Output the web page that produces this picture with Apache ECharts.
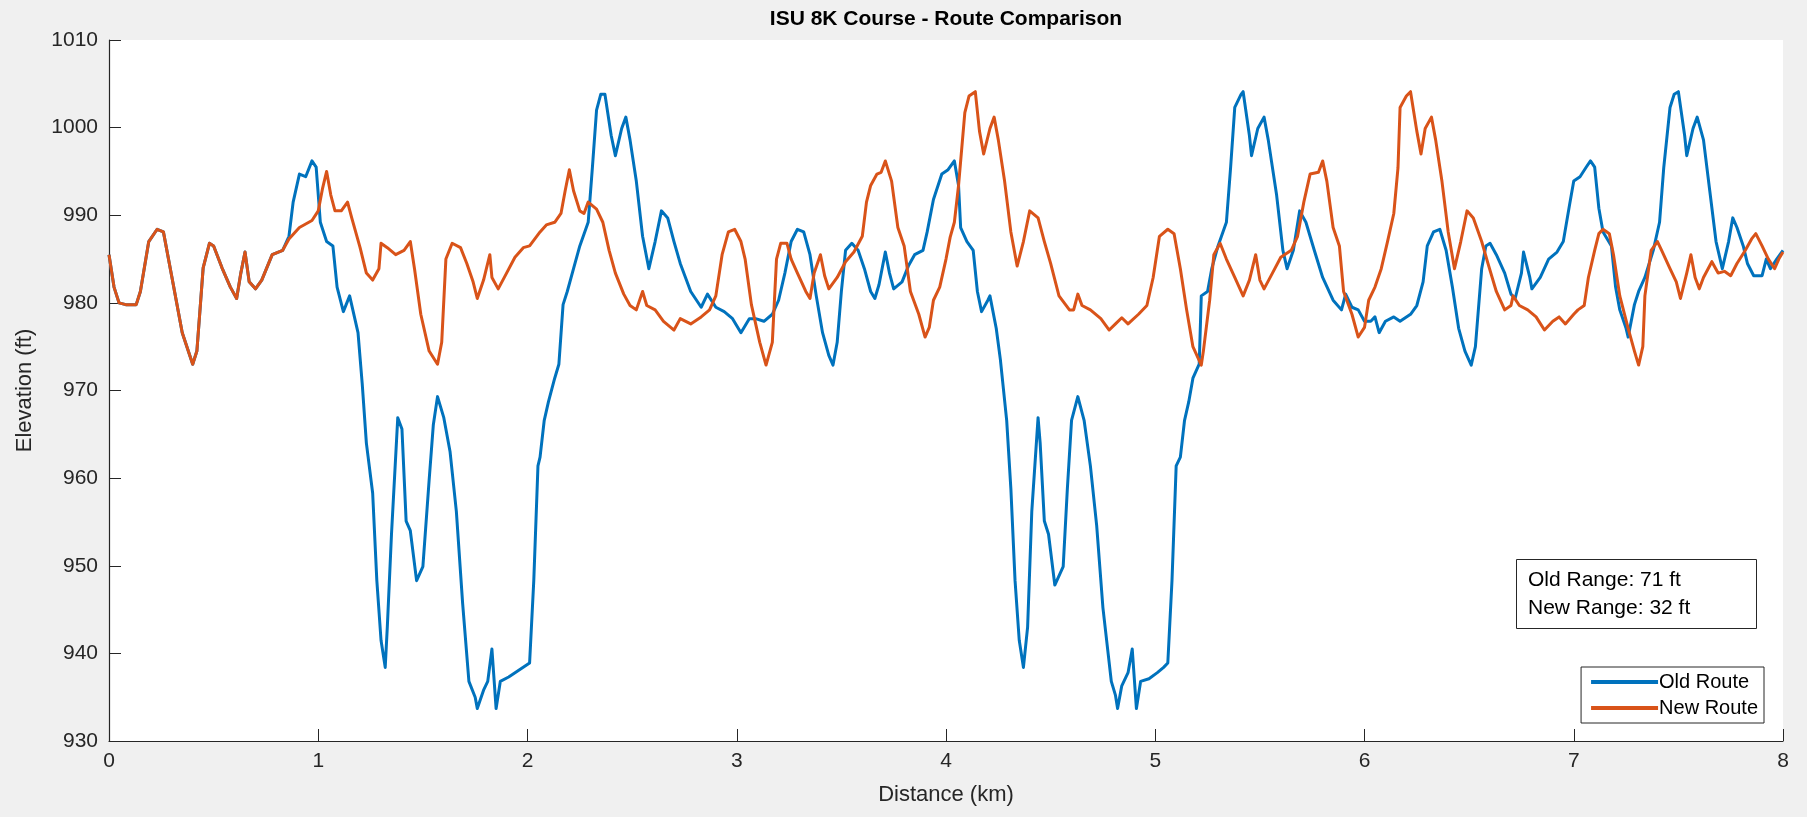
<!DOCTYPE html>
<html>
<head>
<meta charset="utf-8">
<title>ISU 8K Course - Route Comparison</title>
<script src="https://cdn.jsdelivr.net/npm/echarts@6/dist/echarts.min.js"></script>
<style>
  html, body { margin: 0; padding: 0; background: #f0f0f0; }
  #chart { width: 1807px; height: 817px; }
</style>
</head>
<body>
<div id="chart"></div>
<script>
// distance (km) / elevation (ft)
var oldDist = [0, 0.024, 0.048, 0.08, 0.13, 0.15, 0.19, 0.23, 0.26, 0.30, 0.35, 0.40, 0.42, 0.45, 0.48, 0.50, 0.54, 0.58, 0.61, 0.63, 0.65, 0.67, 0.70, 0.73, 0.78, 0.83,
  0.86, 0.88, 0.91, 0.94, 0.97, 0.99, 1.01, 1.04, 1.07, 1.09, 1.12, 1.15, 1.19, 1.21, 1.23, 1.26, 1.28, 1.30, 1.32, 1.33, 1.35, 1.38, 1.40, 1.42, 1.44, 1.47, 1.50,
  1.53, 1.55, 1.57, 1.60, 1.63, 1.66, 1.69, 1.72, 1.75, 1.76, 1.79, 1.81, 1.83, 1.85, 1.87, 1.91, 1.96, 2.01, 2.03, 2.05, 2.06, 2.08, 2.10, 2.13, 2.15, 2.17,
  2.19, 2.22, 2.25, 2.29, 2.31, 2.33, 2.35, 2.37, 2.40, 2.42, 2.45, 2.47, 2.49, 2.52, 2.55, 2.58, 2.61, 2.64, 2.67, 2.70, 2.73, 2.78, 2.83, 2.86, 2.90, 2.94,
  2.98, 3.02, 3.06, 3.09, 3.13, 3.17, 3.20, 3.23, 3.26, 3.29, 3.32, 3.35, 3.38, 3.41, 3.44, 3.46, 3.48, 3.50, 3.52, 3.55, 3.58, 3.61, 3.64, 3.66, 3.68, 3.71,
  3.73, 3.75, 3.79, 3.82, 3.85, 3.89, 3.91, 3.94, 3.98, 4.01, 4.04, 4.06, 4.07, 4.10, 4.13, 4.15, 4.17, 4.20, 4.21, 4.24, 4.26, 4.29, 4.31, 4.33, 4.35, 4.37,
  4.39, 4.41, 4.44, 4.45, 4.47, 4.49, 4.52, 4.56, 4.58, 4.60, 4.63, 4.66, 4.69, 4.72, 4.75, 4.79, 4.81, 4.82, 4.84, 4.87, 4.89, 4.91, 4.93, 4.97, 5.01, 5.04,
  5.06, 5.08, 5.10, 5.12, 5.14, 5.16, 5.18, 5.21, 5.22, 5.25, 5.27, 5.30, 5.34, 5.36, 5.38, 5.41, 5.42, 5.45, 5.46, 5.49, 5.52, 5.54, 5.58, 5.61, 5.63, 5.66,
  5.69, 5.72, 5.76, 5.80, 5.85, 5.89, 5.91, 5.94, 5.97, 6.00, 6.03, 6.05, 6.07, 6.10, 6.14, 6.17, 6.22, 6.25, 6.28, 6.30, 6.33, 6.36, 6.39, 6.42, 6.45, 6.48,
  6.51, 6.53, 6.56, 6.58, 6.60, 6.63, 6.67, 6.70, 6.72, 6.75, 6.76, 6.79, 6.80, 6.84, 6.88, 6.92, 6.95, 6.98, 7.00, 7.03, 7.06, 7.08, 7.10, 7.12, 7.14, 7.18,
  7.20, 7.22, 7.25, 7.26, 7.29, 7.31, 7.34, 7.38, 7.41, 7.43, 7.46, 7.48, 7.50, 7.53, 7.54, 7.57, 7.59, 7.62, 7.65, 7.68, 7.71, 7.74, 7.76, 7.78, 7.81, 7.83,
  7.86, 7.90, 7.92, 7.94, 7.97, 8.00];
var oldElev = [985.5, 981.8, 980, 979.8, 979.8, 981.3, 987, 988.4, 988.1, 983, 976.6, 973, 974.5, 984, 986.8, 986.5, 984, 981.8, 980.5, 983.4, 985.8, 982.4, 981.6, 982.6, 985.5, 986,
  987.6, 991.5, 994.7, 994.4, 996.2, 995.5, 989.2, 987, 986.5, 981.8, 979, 980.8, 976.6, 970.8, 964, 958.3, 948.3, 941.5, 938.4, 943, 953.6, 966.9, 965.6, 955.1, 954, 948.3, 949.9,
  959.8, 966.1, 969.3, 966.9, 963, 956.2, 945.7, 936.8, 935, 933.7, 935.8, 936.8, 940.5, 933.7, 936.8, 937.3, 938.1, 938.9, 948.3, 961.4, 962.4, 966.6, 968.7, 971.4, 973, 979.8,
  981.3, 983.9, 986.5, 989.2, 995.4, 1002, 1003.8, 1003.8, 999.1, 996.8, 999.9, 1001.2, 998.6, 993.9, 987.6, 983.9, 987, 990.5, 989.7, 987, 984.5, 981.3, 979.5, 981, 979.5, 979,
  978.2, 976.6, 978.2, 978.2, 977.9, 978.7, 980.3, 983.4, 987, 988.4, 988.1, 985.5, 980.8, 976.6, 974, 972.9, 975.5, 981.3, 986, 986.8, 986, 983.9, 981.3, 980.5, 982.1, 985.8,
  983.4, 981.6, 982.4, 984.2, 985.5, 986, 988.1, 991.8, 994.7, 995.2, 996.2, 993.4, 988.6, 987, 986, 981.3, 979, 980.3, 980.8, 977.1, 973.5, 966.6, 958.8, 948.3, 941.5, 938.4,
  943, 956.2, 966.9, 964, 955.1, 953.6, 947.8, 949.9, 958.8, 966.6, 969.3, 966.6, 961.4, 954.6, 945.2, 936.8, 935.2, 933.7, 936.3, 937.8, 940.5, 933.7, 936.8, 937.1, 937.8, 938.4,
  938.9, 948.3, 961.4, 962.4, 966.6, 968.7, 971.4, 973, 980.8, 981.3, 983.9, 986.5, 989.2, 995.4, 1002.3, 1003.8, 1004.1, 999.1, 996.8, 999.9, 1001.2, 998.6, 992.3, 986, 983.9, 986,
  990.5, 989.2, 986, 982.9, 980.3, 979.2, 981, 979.5, 979.2, 977.9, 977.9, 978.4, 976.6, 977.9, 978.4, 977.9, 978.7, 979.7, 982.4, 986.5, 988.1, 988.4, 986, 981.8, 977.1, 974.5,
  972.9, 975, 983.9, 986.5, 986.8, 985.5, 983.4, 981, 980.5, 983.4, 985.8, 982.9, 981.6, 982.9, 985, 985.8, 987, 991.2, 993.9, 994.4, 995.5, 996.2, 995.5, 990.8, 988.1, 986.5,
  981.8, 979.2, 977.1, 976.1, 979.8, 981.3, 982.9, 986, 989.2, 995.4, 1002.3, 1003.8, 1004.1, 999.1, 996.8, 999.9, 1001.2, 998.6, 992.8, 987, 983.9, 987, 989.7, 988.6, 986.5, 984.5,
  983.1, 983.1, 985, 983.9, 985, 986];

var newDist = [0, 0.024, 0.048, 0.08, 0.13, 0.15, 0.19, 0.23, 0.26, 0.30, 0.35, 0.40, 0.42, 0.45, 0.48, 0.50, 0.54, 0.58, 0.61, 0.63, 0.65, 0.67, 0.70, 0.73, 0.78, 0.83,
  0.86, 0.91, 0.97, 1.00, 1.02, 1.04, 1.06, 1.08, 1.11, 1.14, 1.16, 1.20, 1.23, 1.26, 1.29, 1.30, 1.33, 1.37, 1.41, 1.44, 1.46, 1.49, 1.53, 1.57, 1.59, 1.61, 1.64,
  1.68, 1.71, 1.74, 1.76, 1.79, 1.82, 1.83, 1.86, 1.90, 1.94, 1.98, 2.01, 2.06, 2.09, 2.13, 2.16, 2.18, 2.20, 2.22, 2.25, 2.27, 2.29, 2.33, 2.36, 2.39, 2.42, 2.46,
  2.49, 2.52, 2.55, 2.57, 2.61, 2.65, 2.70, 2.73, 2.78, 2.83, 2.87, 2.90, 2.93, 2.96, 2.99, 3.02, 3.04, 3.07, 3.11, 3.14, 3.17, 3.19, 3.21, 3.24, 3.26, 3.29, 3.33,
  3.35, 3.37, 3.40, 3.42, 3.44, 3.48, 3.52, 3.56, 3.60, 3.62, 3.64, 3.67, 3.69, 3.71, 3.74, 3.77, 3.80, 3.83, 3.87, 3.90, 3.92, 3.94, 3.97, 4.00, 4.02, 4.04, 4.06,
  4.09, 4.11, 4.14, 4.16, 4.18, 4.21, 4.23, 4.25, 4.28, 4.31, 4.34, 4.37, 4.40, 4.44, 4.47, 4.50, 4.54, 4.59, 4.61, 4.63, 4.65, 4.69, 4.74, 4.78, 4.81, 4.84, 4.87,
  4.92, 4.96, 4.99, 5.02, 5.06, 5.09, 5.12, 5.15, 5.18, 5.22, 5.23, 5.26, 5.28, 5.31, 5.34, 5.38, 5.42, 5.45, 5.48, 5.50, 5.52, 5.56, 5.60, 5.65, 5.68, 5.71, 5.74,
  5.78, 5.80, 5.82, 5.85, 5.88, 5.90, 5.94, 5.97, 6.00, 6.02, 6.05, 6.08, 6.11, 6.14, 6.16, 6.17, 6.20, 6.22, 6.25, 6.27, 6.29, 6.32, 6.34, 6.37, 6.40, 6.43, 6.46,
  6.49, 6.52, 6.56, 6.59, 6.63, 6.67, 6.70, 6.71, 6.74, 6.78, 6.82, 6.86, 6.90, 6.93, 6.96, 7.00, 7.02, 7.05, 7.07, 7.10, 7.12, 7.14, 7.17, 7.19, 7.22, 7.26, 7.29,
  7.31, 7.33, 7.34, 7.37, 7.40, 7.42, 7.46, 7.49, 7.51, 7.54, 7.56, 7.58, 7.60, 7.62, 7.66, 7.69, 7.72, 7.75, 7.78, 7.82, 7.85, 7.87, 7.90, 7.93, 7.96, 7.98, 8.00];
var newElev = [985.5, 981.8, 980, 979.8, 979.8, 981.3, 987, 988.4, 988.1, 983, 976.6, 973, 974.5, 984, 986.8, 986.5, 984, 981.8, 980.5, 983.4, 985.8, 982.4, 981.6, 982.6, 985.5, 986,
  987.3, 988.6, 989.4, 990.5, 993, 995, 992.3, 990.5, 990.5, 991.5, 989.7, 986.3, 983.4, 982.6, 983.9, 986.8, 986.3, 985.5, 986, 987, 983.9, 978.7, 974.5, 973, 975.5, 985, 986.8,
  986.3, 984.5, 982.4, 980.5, 982.6, 985.5, 982.9, 981.6, 983.4, 985.2, 986.3, 986.5, 988.1, 988.9, 989.2, 990.2, 992.8, 995.2, 992.8, 990.5, 990.2, 991.5, 990.7, 989.2, 986, 983.4, 981,
  979.7, 979.2, 981.3, 979.7, 979.2, 977.9, 976.9, 978.2, 977.6, 978.4, 979.2, 980.8, 985.5, 988.1, 988.4, 987, 985, 979.8, 975.5, 972.9, 975.5, 985, 986.8, 986.8, 985, 983.4, 981.3,
  980.5, 983.4, 985.5, 983.1, 981.6, 982.9, 984.7, 985.8, 987.6, 991.5, 993.4, 994.7, 994.9, 996.2, 993.9, 988.6, 986.5, 981.3, 978.7, 976.1, 977.2, 980.3, 981.8, 985, 987.5, 989.2, 993.4,
  1001.7, 1003.6, 1004.1, 999.6, 997, 999.9, 1001.2, 998.6, 993.9, 988.1, 984.2, 987, 990.5, 989.7, 987, 984.5, 980.8, 979.2, 979.2, 981, 979.7, 979.2, 978.2, 976.9, 977.6, 978.3, 977.6,
  978.7, 979.7, 982.9, 987.6, 988.4, 987.9, 983.9, 979.2, 975, 972.9, 974.5, 980.3, 985.5, 986.8, 985, 982.9, 980.8, 982.6, 985.5, 982.6, 981.6, 983.4, 985.2, 986, 987.6, 991.5, 994.7,
  994.9, 996.2, 993.9, 988.6, 986.5, 981.3, 978.7, 976.1, 977.2, 980.3, 981.8, 983.9, 987, 990.2, 995.4, 1002.3, 1003.6, 1004.1, 999.6, 997, 999.9, 1001.2, 998.6, 993.9, 988.1, 983.9, 987,
  990.5, 989.7, 987, 984.5, 981.3, 979.2, 979.7, 980.8, 979.7, 979.2, 978.4, 976.9, 977.9, 978.4, 977.6, 978.7, 979.2, 979.7, 982.9, 986, 987.9, 988.4, 987.9, 985.5, 980.8, 977.1, 974.5,
  972.9, 975, 980.8, 986, 987, 986, 983.9, 982.4, 980.5, 983.4, 985.5, 982.9, 981.6, 982.9, 984.7, 983.4, 983.6, 983.1, 984.5, 986, 987.3, 987.9, 986.5, 985, 983.9, 985, 985.8];

var distTicks = [0, 1, 2, 3, 4, 5, 6, 7, 8];
var elevTicks = [930, 940, 950, 960, 970, 980, 990, 1000, 1010];
var rangeNote = ['Old Range: 71 ft', 'New Range: 32 ft'];

function pairs(xs, ys) {
    var out = []
    for (var i = 0; i < xs.length; i++) out.push([xs[i], ys[i]])
    return out
}

var FONT = '"Liberation Sans", Arial, Helvetica, sans-serif'
var AXIS = '#262626'

var chart = echarts.init(document.getElementById('chart'))
chart.setOption({
    animation: false,
    backgroundColor: '#f0f0f0',
    textStyle: { fontFamily: FONT },
    title: [{
        text: 'ISU 8K Course - Route Comparison',
        left: 946, top: 9, textAlign: 'center', padding: 0,
        textStyle: { fontFamily: FONT, fontSize: 21, fontWeight: 'bold', color: '#000' }
    }, {
        text: rangeNote.join('\n'),
        left: 1516, top: 559,
        padding: [7, 66, 7, 12],
        backgroundColor: '#fff',
        borderColor: AXIS, borderWidth: 1,
        textStyle: { fontFamily: FONT, fontSize: 21, fontWeight: 'normal', color: '#000', lineHeight: 28 }
    }],
    legend: {
        data: ['Old Route', 'New Route'],
        orient: 'vertical',
        right: 43, bottom: 94,
        padding: [5, 6, 5, 10],
        itemGap: 6,
        itemWidth: 67, itemHeight: 4,
        icon: 'rect',
        backgroundColor: '#fff',
        borderColor: AXIS, borderWidth: 1, borderRadius: 0,
        textStyle: { fontFamily: FONT, fontSize: 20, color: '#000', padding: [0, 0, 0, -4] }
    },
    grid: { left: 109, right: 24, top: 40, bottom: 76, backgroundColor: '#fff', show: true, borderWidth: 0 },
    xAxis: {
        type: 'value', min: distTicks[0], max: distTicks[distTicks.length - 1], interval: 1,
        name: 'Distance (km)', nameLocation: 'middle', nameGap: 43,
        nameTextStyle: { fontFamily: FONT, fontSize: 22, color: AXIS },
        axisLine: { lineStyle: { color: AXIS, width: 1.2 } },
        axisTick: { inside: true, length: 12, lineStyle: { color: AXIS } },
        axisLabel: { margin: 10, fontFamily: FONT, fontSize: 21, color: AXIS },
        splitLine: { show: false }
    },
    yAxis: {
        type: 'value', min: elevTicks[0], max: elevTicks[elevTicks.length - 1], interval: 10,
        name: 'Elevation (ft)', nameLocation: 'middle', nameGap: 73,
        nameTextStyle: { fontFamily: FONT, fontSize: 22, color: AXIS },
        axisLine: { show: true, lineStyle: { color: AXIS, width: 1.2 } },
        axisTick: { show: true, inside: true, length: 12, lineStyle: { color: AXIS } },
        axisLabel: {
            margin: 11, fontFamily: FONT, fontSize: 21, color: AXIS,
            formatter: function (v) { return String(v) }
        },
        splitLine: { show: false }
    },
    series: [{
        name: 'Old Route',
        type: 'line',
        data: pairs(oldDist, oldElev),
        showSymbol: false,
        color: '#0072BD',
        lineStyle: { width: 3, color: '#0072BD', join: 'round' }
    }, {
        name: 'New Route',
        type: 'line',
        data: pairs(newDist, newElev),
        showSymbol: false,
        color: '#D95319',
        lineStyle: { width: 3, color: '#D95319', join: 'round' }
    }]
})
</script>
</body>
</html>
